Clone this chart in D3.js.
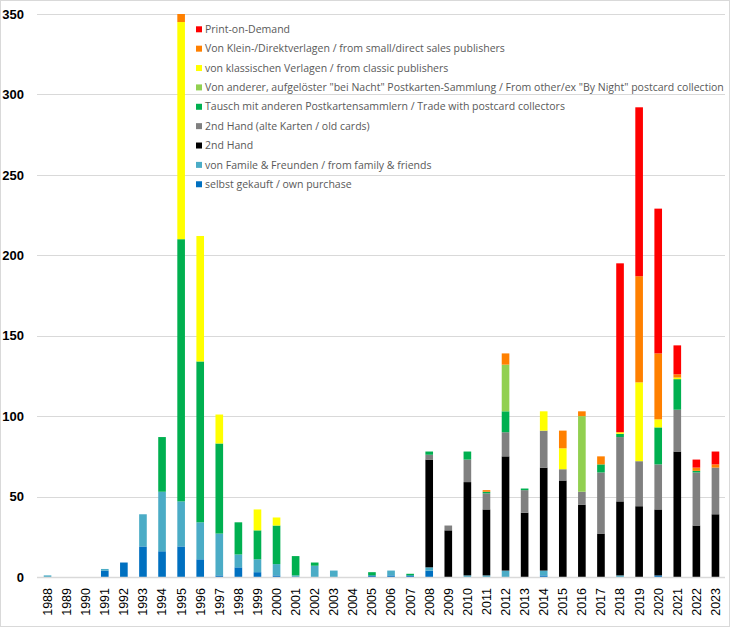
<!DOCTYPE html>
<html>
<head>
<meta charset="utf-8">
<script src="https://cdn.jsdelivr.net/npm/d3@7"></script>
<style>
  html, body { margin: 0; padding: 0; background: #fff; }
  svg { display: block; }
</style>
</head>
<body>
<svg id="chart" width="730" height="627"></svg>
<script>
const years = [1988,1989,1990,1991,1992,1993,1994,1995,1996,1997,1998,1999,2000,2001,2002,2003,2004,2005,2006,2007,2008,2009,2010,2011,2012,2013,2014,2015,2016,2017,2018,2019,2020,2021,2022,2023];

// stacked bottom -> top
const ownPurchase   = [0,0,0,4,9,19,16,19,11,1,6,3,1,0,0,0,0,1,1,1,4,0,0,0,0,0,1,0,0,0,0,0,1,0,0,0];
const familyFriends = [1,0,0,1,0,20,37,28,23,26,8,8,7,1,7,4,0,0,3,0,2,0,1,1,4,0,3,0,0,0,1,0,0,0,0,0];
const secondHand    = [0,0,0,0,0,0,0,0,0,0,0,0,0,0,0,0,0,0,0,0,67,29,58,41,71,40,64,60,45,27,46,44,41,78,32,39];
const secondHandOld = [0,0,0,0,0,0,0,0,0,0,0,0,0,0,0,0,0,0,0,0,3,3,14,10,15,14,23,7,8,38,40,28,28,26,33,29];
const tradeCollect  = [0,0,0,0,0,0,34,163,100,56,20,18,24,12,2,0,0,2,0,1,2,0,5,1,13,1,0,0,0,5,2,0,23,19,1,0];
const otherByNight  = [0,0,0,0,0,0,0,0,0,0,0,0,0,0,0,0,0,0,0,0,0,0,0,0,29,0,0,0,47,0,0,0,0,0,0,0];
const classicPub    = [0,0,0,0,0,0,0,135,78,18,0,13,5,0,0,0,0,0,0,0,0,0,0,0,0,0,12,13,0,0,1,49,5,1,0,0];
const smallDirect   = [0,0,0,0,0,0,0,5,0,0,0,0,0,0,0,0,0,0,0,0,0,0,0,1,7,0,0,11,3,5,0,66,41,2,2,2];
const printOnDemand = [0,0,0,0,0,0,0,0,0,0,0,0,0,0,0,0,0,0,0,0,0,0,0,0,0,0,0,0,0,0,105,105,90,18,5,8];

const seriesNames = [
  "selbst gekauft / own purchase",
  "von Famile & Freunden / from family & friends",
  "2nd Hand",
  "2nd Hand (alte Karten / old cards)",
  "Tausch mit anderen Postkartensammlern / Trade with postcard collectors",
  "Von anderer, aufgelöster \"bei Nacht\" Postkarten-Sammlung / From other/ex \"By Night\" postcard collection",
  "von klassischen Verlagen / from classic publishers",
  "Von Klein-/Direktverlagen / from small/direct sales publishers",
  "Print-on-Demand"
];
const seriesColors = ["#0070C0","#4BACC6","#000000","#808080","#00B050","#92D050","#FFFF00","#FF8000","#FF0000"];
const seriesValues = [ownPurchase, familyFriends, secondHand, secondHandOld, tradeCollect, otherByNight, classicPub, smallDirect, printOnDemand];
const yTicks = [0,50,100,150,200,250,300,350];

const keys = seriesNames.map((n, i) => "s" + i);
const table = years.map((yr, j) => {
  const row = { year: yr };
  seriesValues.forEach((arr, i) => { row[keys[i]] = arr[j]; });
  return row;
});

const svg = d3.select("#chart");
const W = 730, H = 627;
const plotLeft = 38, plotRight = 725, plotTop = 14, plotBottom = 577;

svg.append("rect").attr("x", 0.5).attr("y", 0.5).attr("width", W - 1).attr("height", H - 1)
  .attr("fill", "#fff").attr("stroke", "#D9D9D9");

const x = d3.scaleBand().domain(years).range([plotLeft, plotRight]).paddingInner(0.6).paddingOuter(0.3);
const y = d3.scaleLinear().domain([0, 350]).range([plotBottom, plotTop]);

// gridlines
svg.append("g").selectAll("line").data(yTicks).join("line")
  .attr("x1", plotLeft - 1).attr("x2", plotRight)
  .attr("y1", d => Math.round(y(d)) + 0.5).attr("y2", d => Math.round(y(d)) + 0.5)
  .attr("stroke", "#D9D9D9").attr("stroke-width", 1);

// y axis labels
const yAxis = d3.axisLeft(y).tickValues(yTicks).tickSize(0).tickPadding(0);
const gy = svg.append("g").attr("transform", `translate(24,0)`).call(yAxis);
gy.select(".domain").remove();
gy.selectAll("text")
  .attr("font-family", "'Liberation Sans', Arial, sans-serif")
  .attr("font-size", 13).attr("font-weight", "bold").attr("fill", "#000");

// bars
const stacked = d3.stack().keys(keys)(table);
svg.append("g").selectAll("g").data(stacked).join("g")
  .attr("fill", (d, i) => seriesColors[i])
  .selectAll("rect").data(d => d).join("rect")
  .attr("x", d => x(d.data.year))
  .attr("width", x.bandwidth())
  .attr("y", d => y(d[1]))
  .attr("height", d => Math.max(0, y(d[0]) - y(d[1])));

// baseline
svg.append("line").attr("x1", plotLeft - 1).attr("x2", plotRight)
  .attr("y1", plotBottom + 0.5).attr("y2", plotBottom + 0.5)
  .attr("stroke", "#D9D9D9").attr("stroke-width", 1.5);

// x axis labels
const xAxis = d3.axisBottom(x).tickSize(0).tickPadding(0);
const gx = svg.append("g").attr("transform", `translate(0,${plotBottom})`).call(xAxis);
gx.select(".domain").remove();
gx.selectAll("text")
  .attr("font-family", "'Liberation Sans', Arial, sans-serif")
  .attr("font-size", 12.5).attr("fill", "#000")
  .attr("text-anchor", "end")
  .attr("transform", "translate(0,11) rotate(-90)")
  .attr("x", 0).attr("y", 0).attr("dy", "0.35em");

// legend (top -> bottom is reverse of stacking)
const legendOrder = d3.range(seriesNames.length).reverse();
const lg = svg.append("g").attr("transform", "translate(196,0)");
const items = lg.selectAll("g").data(legendOrder).join("g")
  .attr("transform", (d, k) => `translate(0,${29.3 + k * 19.37})`);
items.append("rect").attr("x", 0).attr("y", -3).attr("width", 6).attr("height", 6)
  .attr("fill", d => seriesColors[d]);
const texts = items.append("text").attr("x", 9).attr("y", 0).attr("dy", "0.35em")
  .attr("font-family", "'Open Sans', 'Noto Sans', sans-serif")
  .attr("font-size", 10.5).attr("fill", "#595959")
  .text(d => seriesNames[d]);
// fit longest legend line to the reference width
const longest = texts.filter(d => d === 5).node();
const len = longest.getComputedTextLength();
texts.attr("font-size", 10.5 * 520 / len);
</script>
</body>
</html>
